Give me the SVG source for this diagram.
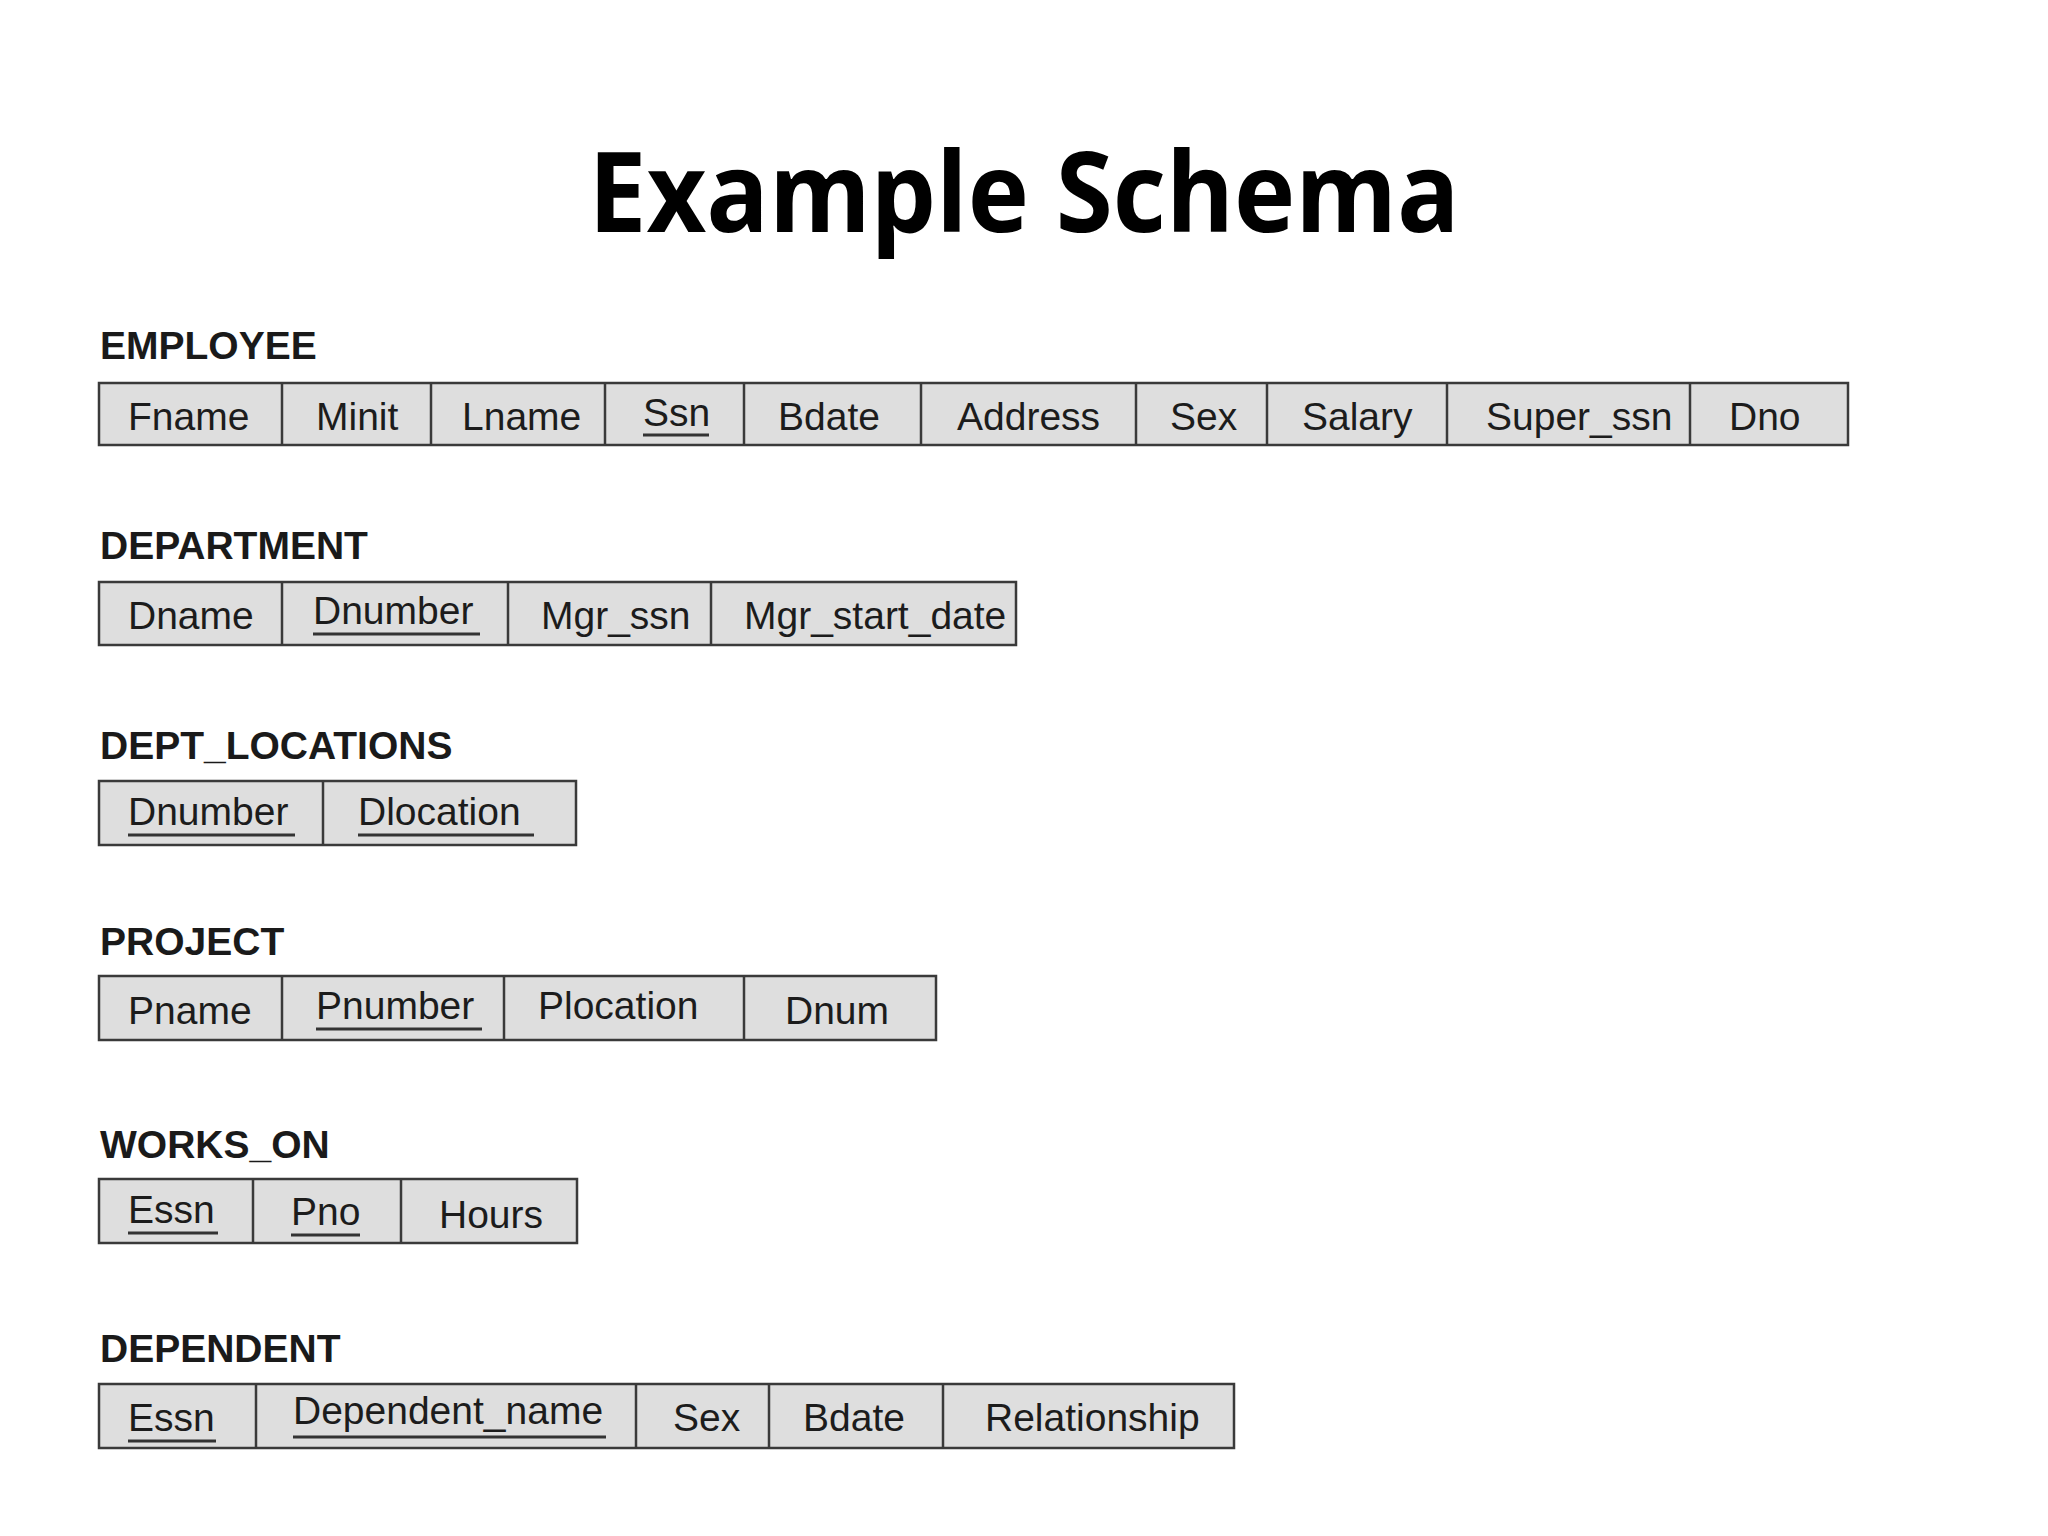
<svg xmlns="http://www.w3.org/2000/svg" width="2048" height="1536" viewBox="0 0 2048 1536">
<style>
.bg{fill:#ffffff}
.title{font-family:"Open Sans","Noto Sans",sans-serif;font-weight:700;font-size:112px;fill:#000}
.lbl{font-family:"Liberation Sans",Arial,sans-serif;font-weight:700;font-size:39px;fill:#1a1a1a}
.box{fill:#dedede;stroke:#3a3a3a;stroke-width:2.5}
.div{stroke:#3a3a3a;stroke-width:2.5}
.attr{font-family:"Liberation Sans",Arial,sans-serif;font-size:39px;fill:#1c1c1c}
.ul{stroke:#333;stroke-width:3}
</style>
<rect class="bg" x="0" y="0" width="2048" height="1536"/>
<text class="title" x="1024" y="232" text-anchor="middle" textLength="871" lengthAdjust="spacingAndGlyphs">Example Schema</text>

<g id="employee">
<text class="lbl" x="100" y="359">EMPLOYEE</text>
<rect class="box" x="99" y="383" width="1749" height="62"/>
<line class="div" x1="282" y1="383" x2="282" y2="445"/>
<line class="div" x1="431" y1="383" x2="431" y2="445"/>
<line class="div" x1="605" y1="383" x2="605" y2="445"/>
<line class="div" x1="744" y1="383" x2="744" y2="445"/>
<line class="div" x1="921" y1="383" x2="921" y2="445"/>
<line class="div" x1="1136" y1="383" x2="1136" y2="445"/>
<line class="div" x1="1267" y1="383" x2="1267" y2="445"/>
<line class="div" x1="1447" y1="383" x2="1447" y2="445"/>
<line class="div" x1="1690" y1="383" x2="1690" y2="445"/>
<text class="attr" x="128" y="430">Fname</text>
<text class="attr" x="316" y="430">Minit</text>
<text class="attr" x="462" y="430">Lname</text>
<text class="attr" x="643" y="426">Ssn</text>
<line class="ul" x1="643" y1="435" x2="709" y2="435"/>
<text class="attr" x="778" y="430">Bdate</text>
<text class="attr" x="957" y="430">Address</text>
<text class="attr" x="1170" y="430">Sex</text>
<text class="attr" x="1302" y="430">Salary</text>
<text class="attr" x="1486" y="430">Super_ssn</text>
<text class="attr" x="1729" y="430">Dno</text>
</g>

<g id="department">
<text class="lbl" x="100" y="559">DEPARTMENT</text>
<rect class="box" x="99" y="582" width="917" height="63"/>
<line class="div" x1="282" y1="582" x2="282" y2="645"/>
<line class="div" x1="508" y1="582" x2="508" y2="645"/>
<line class="div" x1="711" y1="582" x2="711" y2="645"/>
<text class="attr" x="128" y="629">Dname</text>
<text class="attr" x="313" y="624">Dnumber</text>
<line class="ul" x1="313" y1="634" x2="480" y2="634"/>
<text class="attr" x="541" y="629">Mgr_ssn</text>
<text class="attr" x="744" y="629">Mgr_start_date</text>
</g>

<g id="dept_locations">
<text class="lbl" x="100" y="759">DEPT_LOCATIONS</text>
<rect class="box" x="99" y="781" width="477" height="64"/>
<line class="div" x1="323" y1="781" x2="323" y2="845"/>
<text class="attr" x="128" y="825">Dnumber</text>
<line class="ul" x1="128" y1="835" x2="295" y2="835"/>
<text class="attr" x="358" y="825">Dlocation</text>
<line class="ul" x1="358" y1="835" x2="534" y2="835"/>
</g>

<g id="project">
<text class="lbl" x="100" y="955">PROJECT</text>
<rect class="box" x="99" y="976" width="837" height="64"/>
<line class="div" x1="282" y1="976" x2="282" y2="1040"/>
<line class="div" x1="504" y1="976" x2="504" y2="1040"/>
<line class="div" x1="744" y1="976" x2="744" y2="1040"/>
<text class="attr" x="128" y="1024">Pname</text>
<text class="attr" x="316" y="1019">Pnumber</text>
<line class="ul" x1="316" y1="1029" x2="482" y2="1029"/>
<text class="attr" x="538" y="1019">Plocation</text>
<text class="attr" x="785" y="1024">Dnum</text>
</g>

<g id="works_on">
<text class="lbl" x="100" y="1158">WORKS_ON</text>
<rect class="box" x="99" y="1179" width="478" height="64"/>
<line class="div" x1="253" y1="1179" x2="253" y2="1243"/>
<line class="div" x1="401" y1="1179" x2="401" y2="1243"/>
<text class="attr" x="128" y="1223">Essn</text>
<line class="ul" x1="128" y1="1233" x2="218" y2="1233"/>
<text class="attr" x="291" y="1225">Pno</text>
<line class="ul" x1="291" y1="1235" x2="360" y2="1235"/>
<text class="attr" x="439" y="1228">Hours</text>
</g>

<g id="dependent">
<text class="lbl" x="100" y="1362">DEPENDENT</text>
<rect class="box" x="99" y="1384" width="1135" height="64"/>
<line class="div" x1="256" y1="1384" x2="256" y2="1448"/>
<line class="div" x1="636" y1="1384" x2="636" y2="1448"/>
<line class="div" x1="769" y1="1384" x2="769" y2="1448"/>
<line class="div" x1="943" y1="1384" x2="943" y2="1448"/>
<text class="attr" x="128" y="1431">Essn</text>
<line class="ul" x1="128" y1="1441" x2="216" y2="1441"/>
<text class="attr" x="293" y="1424">Dependent_name</text>
<line class="ul" x1="293" y1="1437" x2="606" y2="1437"/>
<text class="attr" x="673" y="1431">Sex</text>
<text class="attr" x="803" y="1431">Bdate</text>
<text class="attr" x="985" y="1431">Relationship</text>
</g>
</svg>
